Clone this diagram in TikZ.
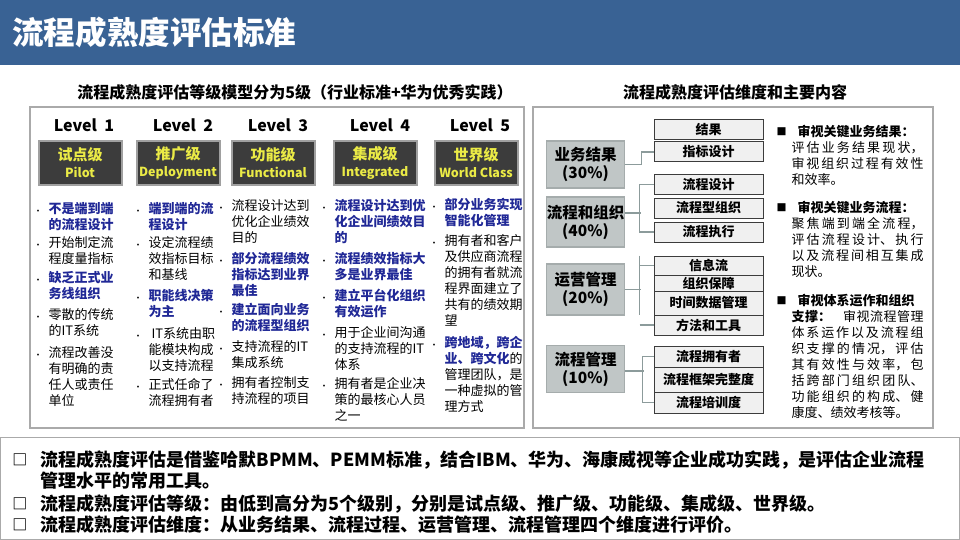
\documentclass[tikz,border=0pt]{standalone}
\usepackage{fontspec}
\setmainfont{Noto Sans CJK SC}
\XeTeXlinebreaklocale "zh"
\XeTeXlinebreakskip=0pt plus 4pt
\hbadness=10000

\definecolor{titleblue}{RGB}{57,98,148}
\definecolor{lvlfill}{RGB}{60,60,60}
\definecolor{lvlrim}{RGB}{160,160,160}
\definecolor{lvltext}{RGB}{235,235,70}
\definecolor{keyblue}{RGB}{32,40,150}
\definecolor{panelgray}{RGB}{170,170,170}
\definecolor{dimfill}{RGB}{192,198,198}
\definecolor{dimrim}{RGB}{165,172,172}
\definecolor{subfill}{RGB}{240,240,240}
\definecolor{subrim}{RGB}{60,60,60}
\definecolor{linkgray}{RGB}{140,155,155}

\begin{document}
\begin{tikzpicture}[
  x=1pt,y=-1pt,
  line width=1pt,
  panel/.style={draw=panelgray,line width=1.2pt},
  lvl/.style={draw=lvlrim,line width=2pt,fill=lvlfill,text=lvltext,minimum width=83pt,
    minimum height=44pt,align=center,inner sep=0pt,font=\fontsize{15}{17}\selectfont\bfseries},
  lvlhead/.style={inner sep=0pt,font=\fontsize{16}{16}\selectfont\bfseries},
  pt/.style={anchor=north west,align=left,inner sep=0pt,font=\fontsize{13}{16}\selectfont,
    label={[anchor=north east,inner sep=0pt,xshift=-5pt,yshift=-8pt,
      font=\fontsize{9}{9}\selectfont]north west:\textbullet}},
  key/.style={pt,text=keyblue,font=\fontsize{13}{16}\selectfont\bfseries},
  dim/.style={draw=dimrim,line width=1.5pt,fill=dimfill,minimum width=78pt,minimum height=47pt,
    align=center,inner sep=0pt,font=\fontsize{15.5}{18}\selectfont\bfseries},
  sub/.style={draw=subrim,fill=subfill,minimum width=109pt,inner sep=0pt,
    font=\fontsize{13}{13}\selectfont\bfseries},
  link/.style={draw=linkgray,line width=1.2pt},
  tip/.style={anchor=north west,text width=132pt,align=justify,inner sep=0pt,
    font=\fontsize{13}{16}\selectfont,
    label={[anchor=north east,inner sep=0pt,xshift=-4pt,yshift=-2pt,
      font=\fontsize{10}{10}\selectfont]north west:■}},
  note/.style={anchor=north west,align=left,inner sep=0pt,font=\fontsize{18}{21}\selectfont\bfseries,
    label={[anchor=north east,inner sep=0pt,xshift=-12pt,yshift=-3pt,
      font=\fontsize{15}{15}\selectfont\bfseries]north west:□}}
]
  \useasboundingbox (0,0) rectangle (960,540);

  % Title bar and the two panel headings.
  \fill[titleblue] (0,0) rectangle (960,65);
  \node[anchor=west,inner sep=0pt,text=white,font=\fontsize{31.5}{31.5}\selectfont\bfseries]
    (title) at (12,33) {流程成熟度评估标准};
  \node[inner sep=0pt,font=\fontsize{16}{16}\selectfont\bfseries] (lefthead) at (295,92)
    {流程成熟度评估等级模型分为5级（行业标准+华为优秀实践）};
  \node[inner sep=0pt,font=\fontsize{16}{16}\selectfont\bfseries] (righthead) at (735,92)
    {流程成熟度评估维度和主要内容};

  \draw[panel] (30,107) rectangle (524,428);
  \draw[panel] (533,107) rectangle (933,428);

  % Five maturity levels.
  \node[lvlhead] (h1) at (84,125) {Level~~1};
  \node[lvlhead] (h2) at (183,125) {Level~~2};
  \node[lvlhead] (h3) at (278,125) {Level~~3};
  \node[lvlhead] (h4) at (380,125) {Level~~4};
  \node[lvlhead] (h5) at (480,125) {Level~~5};

  \node[lvl] (l1) at (80,163) {试点级\\{\fontsize{12.5}{12.5}\selectfont Pilot}};
  \node[lvl] (l2) at (178,163) {推广级\\{\fontsize{12.5}{12.5}\selectfont Deployment}};
  \node[lvl] (l3) at (273,163) {功能级\\{\fontsize{12.5}{12.5}\selectfont Functional}};
  \node[lvl] (l4) at (375,163) {集成级\\{\fontsize{12.5}{12.5}\selectfont Integrated}};
  \node[lvl] (l5) at (476,163) {世界级\\{\fontsize{12.5}{12.5}\selectfont World Class}};

  % Level 1
  \node[key] (a1) at (48,202) {不是端到端\\的流程设计};
  \node[pt]  (a2) at (48,236) {开始制定流\\程度量指标};
  \node[key] (a3) at (48,271) {缺乏正式业\\务线组织};
  \node[pt]  (a4) at (48,308) {零散的传统\\的IT系统};
  \node[pt]  (a5) at (48,346) {流程改善没\\有明确的责\\任人或责任\\单位};

  % Level 2
  \node[key] (b1) at (148,202) {端到端的流\\程设计};
  \node[pt]  (b2) at (148,236) {设定流程绩\\效指标目标\\和基线};
  \node[key] (b3) at (148,289) {职能线决策\\为主};
  \node[pt]  (b4) at (148,327) {\hspace*{3pt}IT系统由职\\能模块构成\\以支持流程};
  \node[pt]  (b5) at (148,378) {正式任命了\\流程拥有者};

  % Level 3
  \node[pt]  (c1) at (231,199) {流程设计达到\\优化企业绩效\\目的};
  \node[key] (c2) at (231,252) {部分流程绩效\\指标达到业界\\最佳};
  \node[key] (c3) at (231,303) {建立面向业务\\的流程型组织};
  \node[pt]  (c4) at (231,340) {支持流程的IT\\集成系统};
  \node[pt]  (c5) at (231,376) {拥有者控制支\\持流程的项目};

  % Level 4
  \node[key] (d1) at (334,199) {流程设计达到优\\化企业间绩效目\\的};
  \node[key] (d2) at (334,252) {流程绩效指标大\\多是业界最佳};
  \node[key] (d3) at (334,289) {建立平台化组织\\有效运作};
  \node[pt]  (d4) at (334,326) {用于企业间沟通\\的支持流程的IT\\体系};
  \node[pt]  (d5) at (334,377) {拥有者是企业决\\策的最核心人员\\之一};

  % Level 5
  \node[key] (e1) at (444,198) {部分业务实现\\智能化管理};
  \node[pt]  (e2) at (444,234) {拥有者和客户\\及供应商流程\\的拥有者就流\\程界面建立了\\共有的绩效期\\望};
  \node[pt]  (e3) at (444,336) {\textcolor{keyblue}{\bfseries 跨地域，跨企}\\
    \textcolor{keyblue}{\bfseries 业、跨文化}的\\管理团队，是\\一种虚拟的管\\理方式};

  % Dimensions and their contents.
  \node[dim] (biz) at (585.5,164.5) {业务结果\\(30\%)};
  \node[dim,minimum height=50pt] (pro) at (585.5,222) {流程和组织\\(40\%)};
  \node[dim,minimum height=51pt] (ops) at (585.5,289.5) {运营管理\\(20\%)};
  \node[dim] (pm) at (585.5,369) {流程管理\\(10\%)};

  \node[sub,minimum height=20pt] (res) at (708.5,130) {结果};
  \node[sub,minimum height=20pt] (kpi) at (708.5,152) {指标设计};
  \node[sub,minimum height=19pt] (pdes) at (708.5,184.5) {流程设计};
  \node[sub,minimum height=20pt] (porg) at (708.5,208) {流程型组织};
  \node[sub,minimum height=20pt] (pexe) at (708.5,232) {流程执行};
  \node[sub,minimum height=19pt] (info) at (708.5,265.5) {信息流};
  \node[sub,minimum height=16pt] (guard) at (708.5,283) {组织保障};
  \node[sub,minimum height=24pt] (tdata) at (708.5,303) {时间数据管理};
  \node[sub,minimum height=20pt] (tool) at (708.5,325) {方法和工具};
  \node[sub,minimum height=21pt] (own) at (708.5,356.5) {流程拥有者};
  \node[sub,minimum height=25pt] (frame) at (708.5,379.5) {流程框架完整度};
  \node[sub,minimum height=21pt] (trn) at (708.5,402.5) {流程培训度};

  \draw[link] (biz.east) -- ++(16,0) |- (kpi.west);
  \draw[link] ([yshift=9pt]pro.east) -- ++(16,0);
  \draw[link] (pdes.west) -- ++(-14,0) |- (pexe.west);
  \draw[link] (ops.east) -- ++(16,0);
  \draw[link] ([xshift=-14pt]info.north west) -- ([xshift=-14pt]tool.north west);
  \draw[link] ([xshift=-14pt]info.west) -- (info.west);
  \draw[link] ([xshift=-14pt]tool.west) -- (tool.west);
  \draw[link] ([yshift=-2pt]pm.east) -- ++(19,0);
  \draw[link] (own.west) -- ++(-11,0) |- (trn.west);

  \node[tip] (t1) at (791,125) {\hspace*{6pt}\textbf{审视关键业务结果：}\\
    评估业务结果现状，\linebreak 审视组织过程有效性\linebreak 和效率。};
  \node[tip] (t2) at (791,201) {\hspace*{6pt}\textbf{审视关键业务流程：}\\
    聚焦端到端全流程，\linebreak 评估流程设计、执行\linebreak 以及流程间相互集成\linebreak 现状。};
  \node[tip] (t3) at (791,294) {\hspace*{6pt}\textbf{审视体系运作和组织}\\
    \textbf{支撑：}\hspace{12pt}审视流程管理\linebreak 体系运作以及流程组\linebreak
    织支撑的情况，评估\linebreak 其有效性与效率，包\linebreak 括跨部门组织团队、\linebreak
    功能组织的构成、健\linebreak 康度、绩效考核等。};

  % Summary at the bottom.
  \draw[draw=panelgray] (0.5,437) rectangle (959.5,539.5);
  \node[note] (n1) at (40,450) {流程成熟度评估是借鉴哈默BPMM、PEMM标准，结合IBM、华为、海康威视等企业成功实践，是评估企业流程\\
    管理水平的常用工具。};
  \node[note] (n2) at (40,494) {流程成熟度评估等级：由低到高分为5个级别，分别是试点级、推广级、功能级、集成级、世界级。};
  \node[note] (n3) at (40,515) {流程成熟度评估维度：从业务结果、流程过程、运营管理、流程管理四个维度进行评价。};
\end{tikzpicture}
\end{document}
